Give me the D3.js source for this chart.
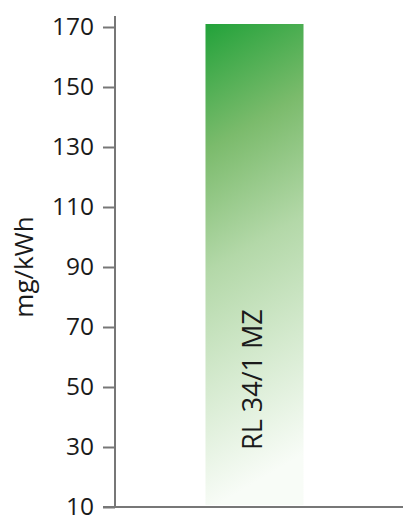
<!DOCTYPE html>
<html>
<head>
<meta charset="utf-8">
<script src="https://cdn.jsdelivr.net/npm/d3@7"></script>
<style>
  body { margin: 0; background: #fff; }
  svg { display: block; font-family: "Open Sans", sans-serif; }
</style>
</head>
<body>
<div id="chart"></div>
<script>
// Chart data
const categories = ["RL 34/1 MZ"];
const values = [171];
const tickValues = [10, 30, 50, 70, 90, 110, 130, 150, 170];
const yLabel = "mg/kWh";

const width = 403, height = 516;
const margin = { top: 27, right: 9, bottom: 9, left: 115 };

const svg = d3.select("#chart")
    .append("svg")
    .attr("width", width)
    .attr("height", height);

// Scales
const y = d3.scaleLinear()
    .domain([10, 170])
    .range([height - margin.bottom, margin.top]);

const x = d3.scaleBand()
    .domain(categories)
    .range([margin.left, width - margin.right])
    .paddingInner(0.48)
    .paddingOuter(0.48);

// Gradient for the bar
const grad = svg.append("defs").append("linearGradient")
    .attr("id", "barGrad")
    .attr("x1", "0").attr("y1", "0")
    .attr("x2", "0.12").attr("y2", "1");
[
    [0, "#22a23a"],
    [0.26, "#7bbb6c"],
    [0.51, "#b3d8a8"],
    [0.75, "#d5eacf"],
    [1, "#f8fcf7"]
].forEach(s => grad.append("stop").attr("offset", s[0]).attr("stop-color", s[1]));

// Bars
svg.selectAll("rect.bar")
    .data(categories)
    .enter()
    .append("rect")
    .attr("class", "bar")
    .attr("x", d => x(d))
    .attr("width", x.bandwidth())
    .attr("y", (d, i) => y(values[i]))
    .attr("height", (d, i) => y(10) - y(values[i]) - 2)
    .attr("fill", "url(#barGrad)");

// Bar labels
svg.selectAll("text.barlabel")
    .data(categories)
    .enter()
    .append("text")
    .attr("class", "barlabel")
    .attr("transform", d => `translate(${x(d) + x.bandwidth() / 2 + 7},${y(30) + 3}) rotate(-90)`)
    .attr("text-anchor", "start")
    .attr("font-size", 27)
    .attr("fill", "#1a1a1a")
    .text(d => d);

// Y axis
const yAxis = svg.append("g")
    .attr("transform", `translate(${margin.left},0)`)
    .call(d3.axisLeft(y).tickValues(tickValues).tickSize(12).tickPadding(9).tickSizeOuter(0));

yAxis.select(".domain").remove();
yAxis.append("line")
    .attr("x1", 0).attr("x2", 0)
    .attr("y1", 16).attr("y2", y(10))
    .attr("stroke", "#777").attr("stroke-width", 2);
yAxis.selectAll(".tick line").attr("stroke", "#777").attr("stroke-width", 2);
yAxis.selectAll(".tick text")
    .attr("font-size", 24.5)
    .attr("font-family", "Open Sans, sans-serif")
    .attr("fill", "#1a1a1a");

// X axis baseline
svg.append("line")
    .attr("x1", margin.left - 12).attr("x2", width)
    .attr("y1", y(10)).attr("y2", y(10))
    .attr("stroke", "#777").attr("stroke-width", 2);

// Y axis title
svg.append("text")
    .attr("transform", `translate(33,${(y(90) + y(70)) / 2 - 30}) rotate(-90)`)
    .attr("text-anchor", "middle")
    .attr("font-size", 26)
    .attr("fill", "#1a1a1a")
    .text(yLabel);
</script>
</body>
</html>
